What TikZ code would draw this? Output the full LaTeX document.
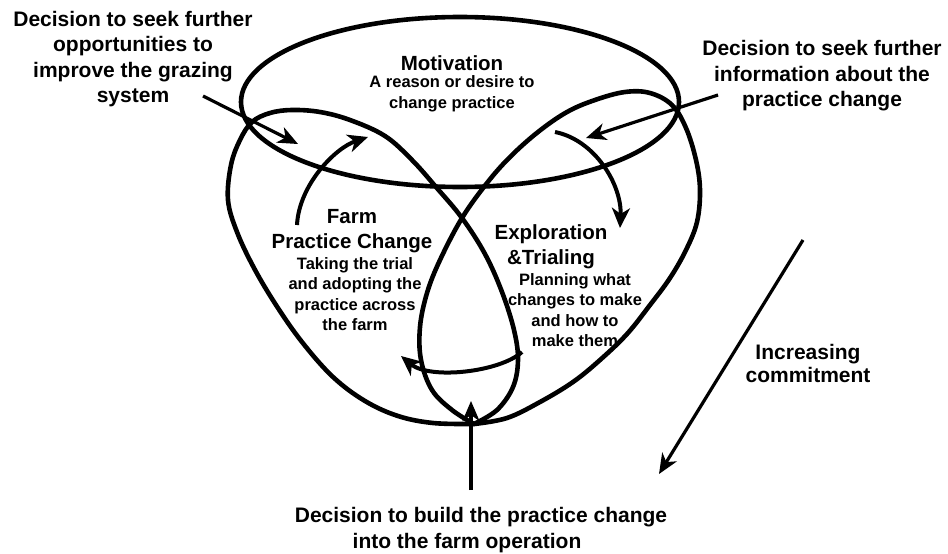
\documentclass[tikz,border=0pt]{standalone}
\usepackage{fontspec}
\setmainfont{Liberation Sans}
\usetikzlibrary{arrows.meta}
\begin{document}
\begin{tikzpicture}[x=1pt,y=-1pt,
  loopline/.style={line width=4.6pt, line join=round, line cap=round},
  straightarr/.style={line width=3.2pt, -{Stealth[length=20pt,width=17pt,inset=6pt]}},
  curvearr/.style={line width=4pt, -{Stealth[length=20pt,width=18pt,inset=6pt]}},
  big/.style={font=\fontsize{21}{25.5}\selectfont\bfseries, align=center, inner sep=0pt},
  head/.style={font=\fontsize{20.5}{25}\selectfont\bfseries, align=center, inner sep=0pt},
  body/.style={font=\fontsize{16.5}{20.5}\selectfont\bfseries, align=center, inner sep=0pt}]
\fill[white] (0,0) rectangle (948,554);
\useasboundingbox (0,0) rectangle (948,554);

% top ellipse (Motivation)
\draw[loopline] (460,102) ellipse [x radius=219, y radius=85];

% left loop (Farm Practice Change)
\draw[loopline] plot[smooth, tension=0.6] coordinates {
 (474,424) (433,423) (398,416) (365,401) (333,377) (302,342) (276,305)
 (254,268) (237,232) (228,200) (231,165) (240,140) (252,122) (270,113)
 (292,110) (320,112) (350,120) (385,136) (412,160) (436,187) (462,218)
 (485,254) (502,292) (514,330) (518,360) (513,387) (497,410) (474,424)};

% right loop (Exploration & Trialing)
\draw[loopline] plot[smooth, tension=0.6] coordinates {
 (474,424) (507,418) (540,402) (573,382) (600,360) (627,334) (650,305)
 (670,278) (686,250) (697,222) (700,190) (696,160) (686,128) (672,105)
 (650,93) (625,92) (595,100) (567,112) (538,132) (510,157) (487,183)
 (462,218) (440,260) (427,293) (420,327) (421,360) (432,390) (452,410) (474,424)};

% connector end points
\coordinate (tls) at (203,96);
\coordinate (tle) at (298,144);
\coordinate (trs) at (718,95);
\coordinate (tre) at (586,138);
\coordinate (bs) at (471,490);
\coordinate (be) at (471,401);
\coordinate (ics) at (803,240);
\coordinate (ice) at (659,474);
\coordinate (fcs) at (297,225);
\coordinate (fce) at (368,137);
\coordinate (ecs) at (555,132);
\coordinate (ece) at (620,228);
\coordinate (pcs) at (522,352);
\coordinate (pce) at (401,356);

% straight arrows
\draw[straightarr] (tls) -- (tle);
\draw[straightarr] (trs) -- (tre);
\draw[straightarr] (bs) -- (be);
\draw[straightarr] (ics) -- (ice);

% curved arrows
\draw[curvearr] (fcs) .. controls (299,185) and (335,148) .. (fce);
\draw[curvearr] (ecs) .. controls (595,140) and (622,185) .. (ece);
\draw[curvearr] (pcs) .. controls (500,372) and (430,380) .. (pce);

% texts
\node[big] (tltext) at (133,59) {Decision to seek further\\opportunities to\\improve the grazing\\system};
\node[big] (trtext) at (822,76) {Decision to seek further\\information about the\\practice change};
\node[head] (motiv) at (452,63) {Motivation};
\node[body] (motivtxt) at (452,94) {A reason or desire to\\change practice};
\node[head] (farm) at (352,231) {Farm\\Practice Change};
\node[body] (farmtxt) at (355,294) {Taking the trial\\and adopting the\\practice across\\the farm};
\node[head] (expl) at (551,247) {Exploration\\\&Trialing};
\node[body] (expltxt) at (575,310) {Planning what\\changes to make\\and how to\\make them};
\node[big, font=\fontsize{21}{23}\selectfont\bfseries] (incr) at (808,363) {Increasing\\commitment};
\node[big] (bot1) at (481,517) {Decision to build the practice change};
\node[big] (bot2) at (467,543) {into the farm operation};
\end{tikzpicture}
\end{document}
